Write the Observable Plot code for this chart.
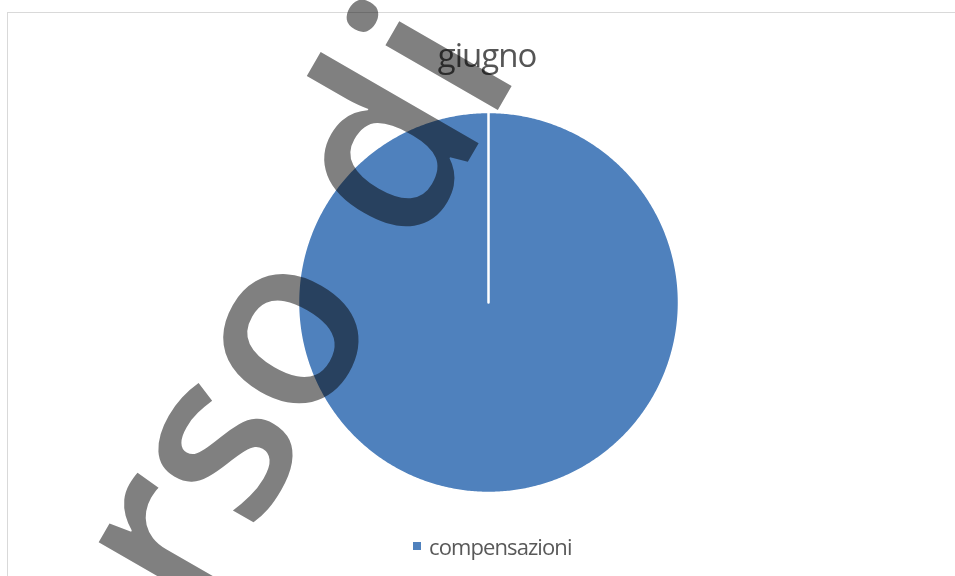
<!DOCTYPE html>
<html>
<head>
<meta charset="utf-8">
<script src="https://cdn.jsdelivr.net/npm/d3@7"></script>
<script src="https://cdn.jsdelivr.net/npm/@observablehq/plot@0.6"></script>
<style>
  html, body { margin: 0; padding: 0; background: #fff; overflow: hidden; width: 955px; height: 576px; }
  #wrap { position: relative; width: 955px; height: 576px; overflow: hidden; background: #fff; }
  #frame { position: absolute; left: 7px; top: 12px; width: 970px; height: 590px; border: 1.5px solid #d9d9d9; box-sizing: border-box; }
  #chart { position: absolute; left: 0; top: 0; }
  #title { position: absolute; left: 0; width: 974px; top: 38px; text-align: center; font-family: "Open Sans", sans-serif; font-size: 33px; line-height: 33px; letter-spacing: -1px; color: #555555; }
  #legend { position: absolute; left: 413px; top: 529px; }
  #watermark { position: absolute; left: 0; top: 0; mix-blend-mode: multiply; pointer-events: none; }
</style>
</head>
<body>
<div id="wrap">
  <div id="frame"></div>
  <div id="chart"></div>
  <div id="title"></div>
  <div id="legend"></div>
  <svg id="watermark" width="955" height="576"></svg>
</div>
<script>
// ---- data ----
const title = "giugno";
const categories = ["compensazioni"];
const values = [100];
const colors = ["#4f81bd"];
const watermarkText = "corso di";

// ---- pie geometry from data ----
const pie = d3.pie().sort(null).value(d => d.value);
const arcs = pie(categories.map((c, i) => ({category: c, value: values[i]})));
const pts = [];
for (const a of arcs) {
  pts.push({category: a.data.category, x: 0, y: 0});
  const n = Math.max(2, Math.ceil((a.endAngle - a.startAngle) / (Math.PI / 360)));
  for (let k = 0; k <= n; k++) {
    const t = a.startAngle + (a.endAngle - a.startAngle) * k / n;
    pts.push({category: a.data.category, x: Math.sin(t), y: Math.cos(t)});
  }
}

const chart = Plot.plot({
  width: 955,
  height: 576,
  margin: 0,
  x: {domain: [-1, 1], range: [297.5, 678.5], axis: null},
  y: {domain: [-1, 1], range: [492.5, 111.5], axis: null},
  color: {domain: categories, range: colors},
  marks: [
    Plot.line(pts, {
      x: "x", y: "y", z: "category",
      fill: "category",
      stroke: "white",
      strokeWidth: 2.5,
      strokeLinejoin: "round",
      strokeLinecap: "round",
      curve: "linear-closed"
    })
  ]
});
document.getElementById("chart").appendChild(chart);

document.getElementById("title").textContent = title;

const legend = Plot.legend({
  color: {domain: categories, range: colors},
  legend: "swatches",
  swatchSize: 8,
  style: {fontFamily: "Open Sans", fontSize: "22px", color: "#595959", letterSpacing: "-0.9px"}
});
document.getElementById("legend").appendChild(legend);
legend.querySelectorAll("svg").forEach(s => { s.style.marginRight = "8px"; });

// ---- watermark ----
d3.select("#watermark").append("text")
  .attr("transform", "translate(521,70) rotate(-60)")
  .attr("text-anchor", "end")
  .attr("font-family", "Open Sans")
  .attr("font-weight", 600)
  .attr("font-size", 240)
  .attr("letter-spacing", -1)
  .attr("fill", "#808080")
  .text(watermarkText);
</script>
</body>
</html>
